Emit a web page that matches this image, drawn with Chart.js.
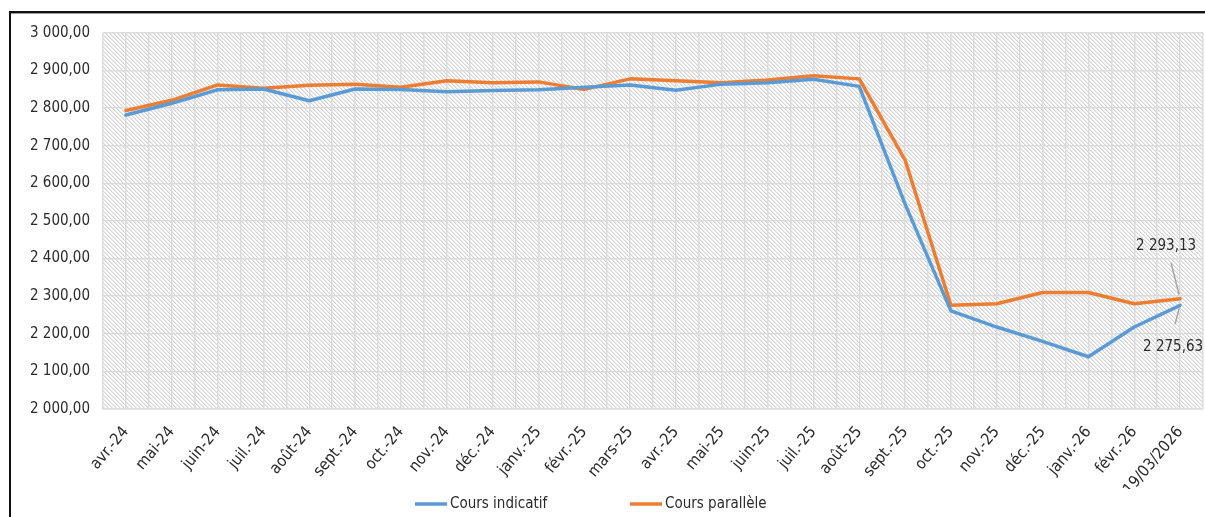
<!DOCTYPE html>
<html>
<head>
<meta charset="utf-8">
<title>Cours indicatif et cours parallèle</title>
<script src="https://cdn.jsdelivr.net/npm/chart.js@4.4.1/dist/chart.umd.min.js"></script>
<style>
  html, body { margin: 0; padding: 0; background: #ffffff; overflow: hidden; }
  #wrap { width: 1205px; height: 517px; position: relative; }
</style>
</head>
<body>
<div id="wrap"><canvas id="chart"></canvas></div>
<script>
// Monthly periods shown on the horizontal axis
const periods = [
  'avr.-24', 'mai-24', 'juin-24', 'juil.-24', 'août-24', 'sept.-24', 'oct.-24',
  'nov.-24', 'déc.-24', 'janv.-25', 'févr.-25', 'mars-25', 'avr.-25', 'mai-25',
  'juin-25', 'juil.-25', 'août-25', 'sept.-25', 'oct.-25', 'nov.-25', 'déc.-25',
  'janv.-26', 'févr.-26', '19/03/2026'
];

// Official (indicative) rate
const coursIndicatif = [
  2782, 2813, 2849, 2851, 2820, 2851, 2850, 2844, 2847, 2849, 2856, 2862,
  2848, 2864, 2868, 2877, 2858, 2545, 2261, 2218, 2180, 2139, 2218, 2275.63
];

// Parallel market rate
const coursParallele = [
  2794, 2821, 2862, 2853, 2861, 2864, 2856, 2873, 2868, 2870, 2850, 2878,
  2873, 2868, 2875, 2886, 2878, 2662, 2276, 2280, 2310, 2310, 2280, 2293.13
];

// Value axis range
const yMin = 2000;
const yMax = 3000;
const yStep = 100;

const FONT = "'DejaVu Sans Condensed', 'Liberation Sans', sans-serif";
const TEXT = '#2b2b2b';
const GRID = '#dcdcdc';

// French number format: "2 293,13"
function fmt(v) {
  const parts = Number(v).toFixed(2).split('.');
  const intPart = parts[0].replace(/\B(?=(\d{3})+(?!\d))/g, ' ');
  return intPart + ',' + parts[1];
}

// Fine downward-diagonal hatch used as the plot-area fill
function makeHatch(ctx) {
  const c = document.createElement('canvas');
  c.width = 4; c.height = 4;
  const g = c.getContext('2d');
  g.fillStyle = '#ffffff';
  g.fillRect(0, 0, 4, 4);
  g.fillStyle = '#d4d4d4';
  for (let i = 0; i < 4; i++) g.fillRect(i, i, 1, 1);
  g.fillStyle = '#e8e8e8';
  for (let i = 0; i < 4; i++) g.fillRect((i + 1) % 4, i, 1, 1);
  return ctx.createPattern(c, 'repeat');
}

const plotBackground = {
  id: 'plotBackground',
  beforeDraw(chart) {
    const { ctx, chartArea: a } = chart;
    ctx.save();
    ctx.fillStyle = makeHatch(ctx);
    ctx.fillRect(a.left, a.top, a.right - a.left, a.bottom - a.top);
    ctx.restore();
  }
};

const decorations = {
  id: 'decorations',
  afterDraw(chart) {
    const ctx = chart.ctx;
    ctx.save();

    // Frame lines on the top and left
    ctx.fillStyle = '#111111';
    ctx.fillRect(9, 11, 1196, 2);
    ctx.fillRect(9, 11, 2, 506);
    ctx.fillStyle = '#9a9a9a';
    ctx.fillRect(11, 13, 1194, 1);

    // Legend
    const legendItems = [
      { ds: 0, x0: 415, x1: 447, tx: 450 },
      { ds: 1, x0: 630, x1: 662, tx: 665 }
    ];
    const ly = 504;
    ctx.font = '15px ' + FONT;
    ctx.textBaseline = 'middle';
    ctx.textAlign = 'left';
    legendItems.forEach(it => {
      const ds = chart.data.datasets[it.ds];
      ctx.strokeStyle = ds.borderColor;
      ctx.lineWidth = 3.5;
      ctx.beginPath();
      ctx.moveTo(it.x0, ly);
      ctx.lineTo(it.x1, ly);
      ctx.stroke();
      ctx.fillStyle = TEXT;
      ctx.fillText(ds.label, it.tx, ly);
    });

    // Value callouts on the last points
    const last = periods.length - 1;
    const pPar = chart.getDatasetMeta(1).data[last];
    const pInd = chart.getDatasetMeta(0).data[last];
    ctx.strokeStyle = '#a6a6a6';
    ctx.lineWidth = 1.5;
    ctx.beginPath();
    ctx.moveTo(pPar.x - 9, pPar.y - 36);
    ctx.lineTo(pPar.x - 1, pPar.y - 4);
    ctx.moveTo(pInd.x - 1, pInd.y + 3);
    ctx.lineTo(pInd.x - 5, pInd.y + 19);
    ctx.stroke();

    ctx.fillStyle = TEXT;
    ctx.textAlign = 'center';
    ctx.fillText(fmt(coursParallele[last]), pPar.x - 14, pPar.y - 53);
    ctx.fillText(fmt(coursIndicatif[last]), pInd.x - 7, pInd.y + 42);

    ctx.restore();
  }
};

new Chart(document.getElementById('chart'), {
  type: 'line',
  data: {
    labels: periods,
    datasets: [
      {
        label: 'Cours indicatif',
        data: coursIndicatif,
        borderColor: '#5b9bd5',
        backgroundColor: '#5b9bd5',
        borderWidth: 3.5,
        pointRadius: 0,
        tension: 0,
        borderJoinStyle: 'round',
        borderCapStyle: 'round'
      },
      {
        label: 'Cours parallèle',
        data: coursParallele,
        borderColor: '#ed7d31',
        backgroundColor: '#ed7d31',
        borderWidth: 3.5,
        pointRadius: 0,
        tension: 0,
        borderJoinStyle: 'round',
        borderCapStyle: 'round'
      }
    ]
  },
  options: {
    responsive: true,
    maintainAspectRatio: false,
    animation: false,
    devicePixelRatio: 1,
    layout: { padding: { top: 33, right: 2, bottom: 28, left: 0 } },
    plugins: {
      legend: { display: false },
      tooltip: { enabled: false }
    },
    scales: {
      x: {
        type: 'category',
        offset: true,
        grid: { offset: true, color: GRID, lineWidth: 1.5, drawTicks: false },
        border: { display: true, color: GRID, width: 1.5 },
        ticks: {
          autoSkip: false,
          minRotation: 50,
          maxRotation: 50,
          padding: 14,
          color: TEXT,
          font: { family: FONT, size: 16 }
        },
        afterFit(scale) {
          scale.height = 80;
          scale.paddingLeft = 0;
          scale.paddingRight = 0;
        }
      },
      xMid: {
        type: 'category',
        position: 'bottom',
        offset: true,
        grid: { offset: false, color: GRID, lineWidth: 1.5, drawTicks: false },
        border: { display: false },
        ticks: { display: false },
        afterFit(scale) {
          scale.height = 0;
          scale.paddingLeft = 0;
          scale.paddingRight = 0;
        }
      },
      y: {
        min: yMin,
        max: yMax,
        grid: { color: GRID, lineWidth: 1.5, drawTicks: false },
        border: { display: false },
        ticks: {
          stepSize: yStep,
          padding: 13,
          color: TEXT,
          font: { family: FONT, size: 15 },
          callback: v => fmt(v)
        },
        afterFit(scale) {
          scale.width = 103;
          scale.paddingTop = 0;
          scale.paddingBottom = 0;
        }
      }
    }
  },
  plugins: [plotBackground, decorations]
});
</script>
</body>
</html>
